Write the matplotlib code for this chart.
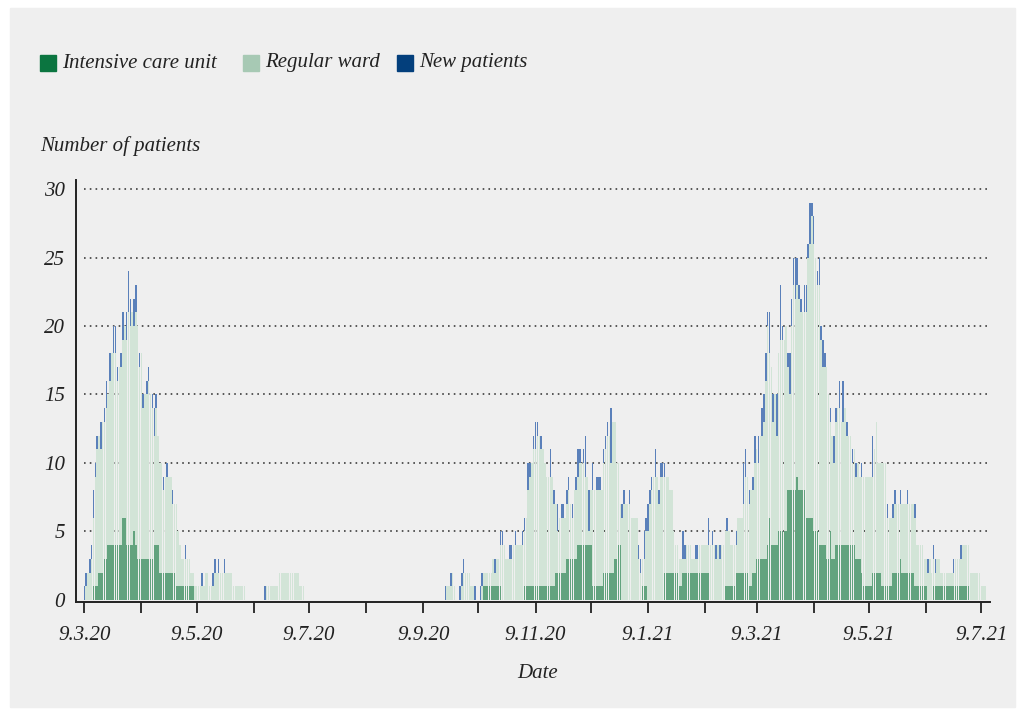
import matplotlib
matplotlib.use("Agg")
import matplotlib.pyplot as plt
from matplotlib.patches import Rectangle
import numpy as np
import pandas as pd

# daily values, first wave starts 9.3.2020
wave1_start = "2020-03-09"
wave1_total = [
    1, 2, 2, 3, 4, 8, 10, 12, 12, 13,
    13, 14, 16, 15, 18, 18, 20, 20, 17, 17,
    18, 21, 20, 21, 24, 22, 21, 22, 23, 20,
    18, 18, 15, 15, 16, 17, 15, 15, 14, 15,
    12, 10, 10, 9, 9, 10, 9, 9, 8, 7,
    7, 5, 4, 3, 3, 4, 3, 3, 2, 2,
    1, 1, 1, 1, 2, 1, 2, 2, 1, 1,
    2, 3, 2, 3, 2, 2, 3, 2, 2, 2,
    2, 1, 1, 1, 1, 1, 1, 1, 0, 0,
    0, 0, 0, 0, 0, 0, 0, 0, 1, 1,
    1, 1, 1, 1, 1, 1, 2, 2, 2, 2,
    2, 2, 2, 2, 2, 2, 2, 1, 1, 1,
]
wave1_icu = [
    0, 0, 0, 0, 0, 1, 1, 1, 2, 2,
    2, 3, 3, 4, 4, 4, 4, 4, 4, 4,
    4, 6, 6, 4, 4, 4, 4, 5, 4, 3,
    3, 3, 3, 3, 3, 3, 3, 3, 4, 4,
    4, 2, 2, 2, 2, 2, 2, 2, 2, 2,
    1, 1, 1, 1, 1, 1, 1, 1, 1, 1,
    0, 0, 0, 0, 0, 0, 0, 0, 0, 0,
    0, 0, 0, 0, 0, 0, 0, 0, 0, 0,
    0, 0, 0, 0, 0, 0, 0, 0, 0, 0,
    0, 0, 0, 0, 0, 0, 0, 0, 0, 0,
    0, 0, 0, 0, 0, 0, 0, 0, 0, 0,
    0, 0, 0, 0, 0, 0, 0, 0, 0, 0,
]
wave1_new = [
    1, 1, 0, 1, 1, 2, 1, 1, 0, 2,
    0, 1, 2, 0, 2, 0, 2, 2, 1, 0,
    1, 2, 0, 2, 3, 2, 0, 2, 2, 0,
    1, 0, 1, 0, 1, 1, 0, 1, 2, 1,
    0, 0, 0, 1, 0, 1, 0, 0, 1, 0,
    0, 0, 0, 0, 0, 1, 0, 0, 0, 0,
    0, 0, 0, 0, 1, 0, 0, 0, 0, 0,
    1, 1, 0, 1, 0, 0, 1, 0, 0, 0,
    0, 0, 0, 0, 0, 0, 0, 0, 0, 0,
    0, 0, 0, 0, 0, 0, 0, 0, 1, 0,
    0, 0, 0, 0, 0, 0, 0, 0, 0, 0,
    0, 0, 0, 0, 0, 0, 0, 0, 0, 0,
]

# second and third wave, from 21.9.2020
wave2_start = "2020-09-21"
wave2_total = [
    1, 1, 1, 2,
    2, 1, 0, 0, 1, 2, 3, 2, 2, 2,
    1, 1, 1, 0, 0, 1, 2, 2, 2, 2,
    2, 2, 3, 3, 3, 3, 5, 5, 4, 3,
    3, 4, 4, 4, 5, 4, 4, 4, 5, 6,
    6, 10, 10, 10, 12, 13, 13, 12, 12, 11,
    10, 9, 9, 11, 9, 8, 7, 7, 6, 7,
    7, 6, 8, 9, 7, 7, 8, 9, 11, 11,
    10, 11, 12, 9, 8, 8, 10, 8, 9, 9,
    9, 8, 11, 12, 13, 12, 14, 13, 13, 10,
    10, 7, 7, 8, 7, 7, 8, 6, 6, 6,
    6, 4, 3, 3, 5, 6, 7, 8, 9, 9,
    11, 9, 8, 10, 10, 10, 9, 9, 8, 8,
    5, 4, 4, 3, 3, 5, 4, 4, 4, 4,
    3, 3, 4, 4, 4, 4, 4, 4, 4, 6,
    4, 5, 4, 4, 4, 4, 4, 4, 5, 6,
    5, 4, 4, 4, 5, 6, 6, 6, 10, 11,
    9, 8, 8, 9, 12, 11, 12, 12, 14, 15,
    18, 21, 21, 17, 15, 15, 15, 18, 23, 20,
    19, 20, 18, 18, 22, 25, 25, 25, 23, 22,
    21, 23, 23, 26, 29, 29, 28, 25, 24, 25,
    20, 19, 18, 17, 15, 14, 12, 12, 14, 14,
    16, 13, 16, 14, 13, 12, 12, 11, 11, 10,
    10, 9, 10, 9, 9, 9, 9, 9, 12, 11,
    13, 10, 10, 10, 10, 10, 7, 6, 6, 7,
    8, 7, 7, 8, 7, 7, 7, 8, 7, 7,
    7, 7, 4, 4, 4, 4, 3, 3, 3, 3,
    2, 4, 3, 3, 3, 2, 2, 2, 2, 2,
    2, 2, 3, 3, 3, 3, 4, 4, 4, 4,
    4, 2, 2, 2, 2, 2, 2, 1, 1, 1,
]
wave2_icu = [
    0, 0, 0, 0,
    0, 0, 0, 0, 0, 0, 0, 0, 0, 0,
    0, 0, 0, 0, 0, 0, 0, 1, 1, 1,
    1, 1, 1, 1, 1, 1, 1, 0, 0, 0,
    0, 0, 0, 0, 0, 0, 0, 0, 0, 1,
    1, 1, 1, 1, 1, 1, 1, 1, 1, 1,
    1, 1, 1, 1, 1, 1, 2, 2, 2, 2,
    2, 2, 3, 3, 3, 3, 3, 3, 4, 4,
    4, 4, 4, 4, 4, 4, 1, 1, 1, 1,
    1, 1, 2, 2, 2, 2, 2, 2, 3, 3,
    4, 4, 0, 0, 0, 0, 0, 0, 0, 0,
    0, 0, 0, 1, 1, 1, 0, 0, 0, 0,
    0, 0, 0, 0, 0, 2, 2, 2, 2, 2,
    2, 2, 2, 1, 1, 2, 2, 2, 2, 2,
    2, 2, 2, 2, 2, 2, 2, 2, 2, 2,
    0, 0, 0, 0, 0, 0, 0, 0, 1, 1,
    1, 1, 1, 1, 2, 2, 2, 2, 2, 2,
    2, 1, 1, 2, 2, 3, 3, 3, 3, 3,
    3, 4, 6, 4, 4, 4, 4, 5, 5, 5,
    5, 5, 8, 8, 8, 8, 8, 9, 8, 8,
    8, 8, 6, 6, 6, 6, 5, 5, 5, 4,
    4, 4, 4, 3, 3, 5, 3, 3, 4, 4,
    4, 4, 4, 4, 4, 4, 4, 4, 4, 3,
    3, 3, 2, 1, 1, 1, 1, 1, 2, 2,
    2, 2, 2, 1, 1, 1, 1, 1, 1, 2,
    2, 2, 2, 3, 2, 2, 2, 2, 2, 2,
    2, 1, 1, 1, 1, 1, 1, 1, 0, 0,
    0, 1, 1, 1, 1, 1, 1, 1, 1, 1,
    1, 1, 1, 1, 1, 1, 1, 1, 1, 1,
    1, 0, 0, 0, 0, 0, 0, 0, 0, 0,
]
wave2_new = [
    1, 0, 0, 1,
    0, 0, 0, 0, 1, 1, 1, 0, 0, 0,
    0, 0, 1, 0, 0, 1, 1, 0, 0, 0,
    0, 0, 0, 1, 0, 0, 1, 1, 0, 0,
    0, 1, 1, 0, 1, 0, 0, 0, 1, 1,
    0, 2, 1, 0, 1, 2, 1, 0, 1, 0,
    0, 0, 0, 2, 0, 1, 0, 2, 0, 1,
    1, 0, 1, 1, 0, 1, 0, 1, 2, 1,
    0, 1, 3, 0, 3, 0, 2, 0, 1, 1,
    1, 0, 1, 1, 1, 0, 4, 0, 0, 0,
    0, 0, 1, 1, 0, 0, 1, 0, 0, 0,
    0, 1, 1, 0, 2, 1, 2, 1, 1, 0,
    2, 0, 1, 1, 1, 1, 0, 0, 0, 0,
    0, 0, 0, 0, 0, 2, 1, 0, 0, 0,
    0, 0, 1, 1, 0, 0, 0, 0, 0, 2,
    0, 1, 0, 1, 0, 1, 0, 0, 0, 1,
    0, 0, 0, 0, 1, 0, 0, 0, 3, 2,
    0, 1, 0, 1, 2, 0, 2, 0, 2, 2,
    2, 1, 3, 0, 2, 0, 3, 0, 4, 1,
    0, 0, 1, 3, 2, 2, 3, 2, 1, 1,
    0, 2, 2, 1, 3, 1, 2, 0, 1, 2,
    1, 2, 1, 0, 0, 1, 0, 2, 1, 0,
    2, 0, 3, 0, 1, 0, 0, 1, 0, 1,
    0, 0, 1, 0, 0, 0, 0, 0, 3, 0,
    0, 0, 0, 0, 0, 0, 1, 0, 0, 1,
    1, 0, 0, 1, 0, 0, 0, 1, 0, 0,
    0, 1, 0, 0, 0, 0, 0, 0, 1, 0,
    0, 1, 1, 0, 0, 0, 0, 0, 0, 0,
    0, 0, 1, 0, 0, 0, 1, 0, 0, 0,
    0, 0, 0, 0, 0, 0, 0, 0, 0, 0,
]

legend_labels = ["Intensive care unit", "Regular ward", "New patients"]
legend_colors = ["#0b7540", "#a7c9b4", "#033f7c"]
bar_colors = ["#62a37e", "#d2e4d7", "#5a80ba"]

W, H = 1025, 717
plt.rcParams["font.family"] = ["Liberation Serif", "DejaVu Serif"]
fig = plt.figure(figsize=(W / 100, H / 100), dpi=100, facecolor="white")

# grey panel behind everything
fig.patches.append(Rectangle((10 / W, 1 - 707 / H), 1005 / W, 699 / H,
                             transform=fig.transFigure, color="#efefef", zorder=-10))

ax = fig.add_axes([76 / W, 1 - 602 / H, 914 / W, 422 / H])
ax.set_facecolor("none")

dates = np.concatenate([
    pd.date_range(wave1_start, periods=len(wave1_total)).to_numpy(),
    pd.date_range(wave2_start, periods=len(wave2_total)).to_numpy(),
])
total = np.array(wave1_total + wave2_total)
icu = np.array(wave1_icu + wave2_icu)
new = np.array(wave1_new + wave2_new)
ward = total - icu - new

bw = 0.8
ax.bar(dates, icu, width=bw, color=bar_colors[0], linewidth=0)
ax.bar(dates, ward, bottom=icu, width=bw, color=bar_colors[1], linewidth=0)
ax.bar(dates, new, bottom=icu + ward, width=bw, color=bar_colors[2], linewidth=0)

d0 = pd.Timestamp(wave1_start)
x_right = d0 + pd.Timedelta(days=491.7)
ax.set_xlim(d0 - pd.Timedelta(days=4.5), x_right)
ax.set_ylim(-0.15, 30.66)

for y in range(5, 31, 5):
    ax.hlines(y, d0, x_right, colors="#4a4a4a", linewidth=1.3,
              linestyles=(0, (0.9, 2.3)), zorder=0)

# a tick on the 9th of every month, a label on every second one
month_ticks = pd.date_range("2020-03-01", "2021-07-01", freq="MS") + pd.Timedelta(days=8)
tick_labels = [f"{d.day}.{d.month}.{d.year % 100}" if i % 2 == 0 else ""
               for i, d in enumerate(month_ticks)]
ax.set_xticks(month_ticks)
ax.set_xticklabels(tick_labels, fontsize=15, style="italic", color="#222222")
ax.set_yticks(range(0, 31, 5))
ax.set_yticklabels([str(v) for v in range(0, 31, 5)], fontsize=15, style="italic",
                   color="#222222")
ax.tick_params(axis="x", direction="out", length=8, width=1.3, color="#222222", pad=9)
ax.tick_params(axis="y", length=0, pad=8)

for side in ["top", "right"]:
    ax.spines[side].set_visible(False)
for side in ["left", "bottom"]:
    ax.spines[side].set_color("#222222")
    ax.spines[side].set_linewidth(1.4)

# legend drawn by hand at the top left
legend_x = [40, 243, 397]
for x, lab, col in zip(legend_x, legend_labels, legend_colors):
    fig.patches.append(Rectangle((x / W, 1 - 71 / H), 16 / W, 16 / H,
                                 transform=fig.transFigure, color=col))
    fig.text((x + 22) / W, 1 - 63 / H, lab, fontsize=15, style="italic",
             color="#222222", va="center", ha="left")

fig.text(40 / W, 1 - 146 / H, "Number of patients", fontsize=15, style="italic",
         color="#222222", va="center", ha="left")
fig.text(538 / W, 1 - 673 / H, "Date", fontsize=15, style="italic",
         color="#222222", va="center", ha="center")

fig.savefig("out.png", dpi=100, facecolor="white")
